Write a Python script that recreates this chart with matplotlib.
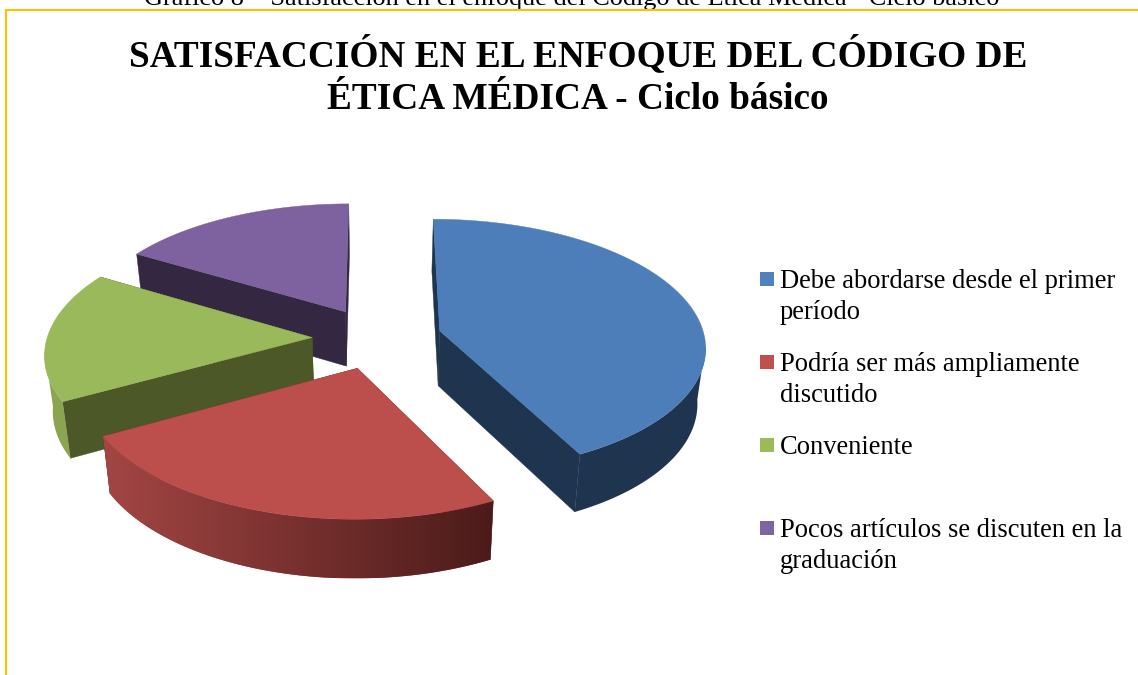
import numpy as np
import matplotlib
matplotlib.use("Agg")
import matplotlib.pyplot as plt
from matplotlib.patches import Polygon, Rectangle
from matplotlib.colors import LinearSegmentedColormap

# data
labels = ["Debe abordarse desde el primer\nperíodo",
          "Podría ser más ampliamente\ndiscutido",
          "Conveniente",
          "Pocos artículos se discuten en la\ngraduación"]
values = [42.5, 24.5, 16.5, 16.5]
colors = ["#4F81BD", "#C0504D", "#9BBB59", "#8064A2"]
top_colors = ["#4D7EB9", "#BC4E4B", "#9AB95A", "#7E62A0"]
face_colors = ["#1F344F", "#4B1B19", "#4C5827", "#332741"]
wall_left = ["#1F344F", "#A34644", "#8AA44F", "#332741"]
wall_right = ["#1F344F", "#4B1B19", "#8AA44F", "#332741"]

title = "SATISFACCIÓN EN EL ENFOQUE DEL CÓDIGO DE\nÉTICA MÉDICA - Ciclo básico"
caption = "Gráfico 8 – Satisfacción en el enfoque del Código de Ética Médica - Ciclo básico"

# pie projection, in pixels
cx, cy = 377, 338
rx, ry = 265, 126
persp = 0.115
explode = 0.245
depth = 55
shrink = 0.975

plt.rcParams['font.family'] = ['Liberation Serif', 'DejaVu Serif']


def project(u, v):
    w = 1 + persp * v
    return cx + rx * u / w, cy - ry * v / w


def drop(x, y, v):
    w = 1 + 0.5 * persp * v
    return cx + (x - cx) * shrink, y + depth / w


def edge(u0, v0, angles):
    u = u0 + np.sin(angles)
    v = v0 + np.cos(angles)
    x, y = project(u, v)
    bx, by = drop(x, y, v)
    return np.column_stack([x, y]), np.column_stack([bx, by])


fig = plt.figure(figsize=(11.38, 6.75), dpi=100)
ax = fig.add_axes([0, 0, 1, 1])
ax.set_xlim(0, 1138)
ax.set_ylim(675, 0)
ax.axis("off")

ax.text(572, 5, caption, fontsize=18.9, ha="center", va="baseline", color="black", zorder=1)
ax.add_patch(Rectangle((6, 9.5), 1300, 800, fc="white", ec="#FFC000", lw=1.5, zorder=2))

ax.text(578, 76, title, fontsize=26.8, fontweight="bold", ha="center", va="center",
        linespacing=1.3, zorder=3, color="black")

fracs = np.array(values) / sum(values) * 2 * np.pi
starts = np.concatenate([[0], np.cumsum(fracs)[:-1]])

# back to front so the nearer slices cover the others
order = [3, 0, 2, 1]
for i in order:
    a0, a1 = starts[i], starts[i] + fracs[i]
    mid = (a0 + a1) / 2
    u0, v0 = explode * np.sin(mid), explode * np.cos(mid)
    z = 5 + order.index(i)

    angles = np.linspace(a0, a1, 160)
    top, bottom = edge(u0, v0, angles)
    ax_, ay_ = project(u0, v0)
    bx_, by_ = drop(ax_, ay_, v0)

    # flat cut faces
    for k in [0, -1]:
        ax.add_patch(Polygon([(ax_, ay_), top[k], bottom[k], (bx_, by_)],
                             fc=face_colors[i], ec=face_colors[i], lw=0.3, zorder=z))

    # outer wall, from the silhouette round the front
    keep = np.cos(angles) < -0.1
    wall_top, wall_bottom = top[keep], bottom[keep]
    if len(wall_top) > 1:
        outline = np.vstack([wall_top, wall_bottom[::-1]])
        patch = Polygon(outline, fc=wall_left[i], ec="none", zorder=z)
        ax.add_patch(patch)
        if wall_left[i] != wall_right[i]:
            cmap = LinearSegmentedColormap.from_list("wall", [wall_left[i], wall_right[i]])
            im = ax.imshow(np.linspace(0, 1, 256).reshape(1, -1), cmap=cmap, aspect="auto",
                           extent=(outline[:, 0].min(), outline[:, 0].max(),
                                   outline[:, 1].max(), outline[:, 1].min()), zorder=z)
            im.set_clip_path(patch)

    ax.add_patch(Polygon(np.vstack([[ax_, ay_], top]), fc=top_colors[i], ec=top_colors[i],
                         lw=0.3, zorder=z))

ax.set_xlim(0, 1138)
ax.set_ylim(675, 0)

# legend
for i, lab in enumerate(labels):
    y = 272 + 83 * i
    ax.add_patch(Rectangle((760, y), 14, 14, fc=colors[i], ec="none", zorder=20))
    ax.text(780, y - 3, lab, fontsize=19.1, ha="left", va="top", color="black",
            linespacing=1.3, zorder=20)

fig.savefig("out.png", dpi=100)
